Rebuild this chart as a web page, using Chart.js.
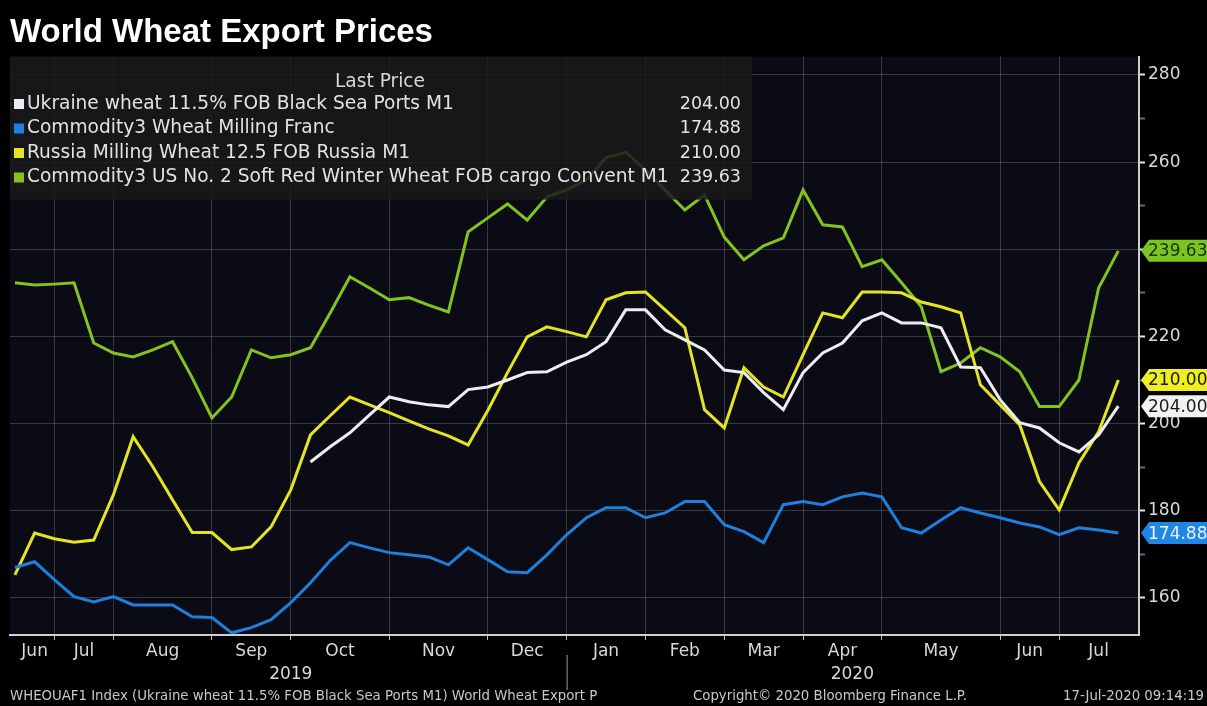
<!DOCTYPE html>
<html>
<head>
<meta charset="utf-8">
<script src="https://cdn.jsdelivr.net/npm/chart.js@4.4.0/dist/chart.umd.min.js"></script>
<style>
html, body { margin: 0; padding: 0; background: #000; }
#caixa { width: 1207px; height: 706px; }
</style>
</head>
<body>
<div id="caixa"><canvas id="grafico" width="1207" height="706"></canvas></div>
<script>
// Séries semanais (jun/2019 a jul/2020)
var ucrania = [null, null, null, null, null, null, null, null, null, null,
  null, null, null, null, null, 191.2, 194.7, 197.9, 202.0, 206.1,
  205.0, 204.3, 203.9, 207.8, 208.4, 210.0, 211.7, 211.9, 214.1, 215.8,
  218.8, 226.1, 226.1, 221.5, 219.2, 216.9, 212.3, 211.7, 207.1, 203.2,
  211.7, 216.2, 218.5, 223.6, 225.4, 223.1, 223.1, 222.0, 213.0, 212.8,
  205.5, 200.2, 199.0, 195.6, 193.5, 197.4, 204.00];
var franca = [167.0, 168.3, 164.2, 160.3, 159.1, 160.3, 158.4, 158.4, 158.4, 155.7,
  155.5, 152.0, 153.2, 155.0, 158.9, 163.5, 168.6, 172.7, 171.5, 170.4,
  169.9, 169.4, 167.6, 171.5, 168.8, 166.0, 165.8, 169.9, 174.5, 178.4,
  180.7, 180.7, 178.4, 179.5, 182.1, 182.1, 176.8, 175.2, 172.7, 181.4,
  182.1, 181.4, 183.2, 184.1, 183.2, 176.1, 174.9, 177.9, 180.7, 179.5,
  178.4, 177.2, 176.3, 174.5, 176.1, 175.6, 174.88];
var russia = [165.3, 174.9, 173.6, 172.8, 173.3, 183.7, 197.0, 190.1, 182.5, 175.0,
  175.0, 171.1, 171.7, 176.3, 184.8, 197.4, 201.8, 206.1, 204.3, 202.5,
  200.6, 198.8, 197.2, 195.1, 203.0, 211.7, 219.9, 222.2, 221.1, 219.9,
  228.4, 230.0, 230.2, 226.1, 222.0, 203.2, 199.0, 212.8, 208.4, 206.1,
  215.8, 225.4, 224.3, 230.2, 230.2, 230.0, 227.9, 226.8, 225.4, 208.9,
  204.3, 199.7, 186.7, 180.2, 191.0, 198.1, 210.00];
var eua = [232.3, 231.8, 232.0, 232.3, 218.5, 216.2, 215.3, 216.9, 218.8, 210.5,
  201.3, 206.1, 216.9, 215.1, 215.8, 217.4, 225.4, 233.7, 231.1, 228.4,
  228.9, 227.2, 225.6, 244.0, 247.2, 250.4, 246.7, 252.0, 253.6, 255.9,
  261.0, 262.3, 258.2, 253.6, 249.0, 252.5, 242.8, 237.6, 240.8, 242.6,
  253.6, 245.6, 245.1, 236.0, 237.6, 232.3, 226.8, 211.9, 213.9, 217.4,
  215.3, 211.9, 203.9, 203.9, 210.0, 231.1, 239.63];

var nomes = ['Ukraine wheat 11.5% FOB Black Sea Ports M1',
  'Commodity3 Wheat Milling Franc',
  'Russia Milling Wheat 12.5 FOB Russia M1',
  'Commodity3 US No. 2 Soft Red Winter Wheat FOB cargo Convent M1'];

// Eixo x: primeira semana de cada mês
var meses = ['Jun', 'Jul', 'Aug', 'Sep', 'Oct', 'Nov', 'Dec', 'Jan', 'Feb', 'Mar', 'Apr', 'May', 'Jun', 'Jul'];
var inicioMes = [0, 2, 5, 10, 14, 19, 24, 28, 32, 36, 40, 44, 50, 53];
var anos = ['2019', '2020'];
var inicioAno = [0, 28];
var marcasY = [160, 170, 180, 190, 200, 210, 220, 230, 240, 250, 260, 270, 280];

var rodape = ['WHEOUAF1 Index (Ukraine wheat 11.5% FOB Black Sea Ports M1) World Wheat Export P',
  'Copyright\u00a9 2020 Bloomberg Finance L.P.',
  '17-Jul-2020 09:14:19'];

var fonte = "'DejaVu Sans', sans-serif";
Chart.defaults.font.family = fonte;
Chart.defaults.color = '#d4d4d4';

var total = franca.length;
var xMin = -0.25, xMax = 57.05;

function pontos(vals) {
    return vals.map(function (v, i) { return { x: i, y: v }; });
}
function centros(inicios, fim) {
    return inicios.map(function (v, i) {
        var f = i + 1 < inicios.length ? inicios[i + 1] : fim;
        return (v + f) / 2;
    });
}
var centroMes = centros(inicioMes, total);
var centroAno = centros(inicioAno, total);

var cores = ['#ececf2', '#1f7fdc', '#e4e424', '#84c21f'];
var etiquetas = [
    { fundo: '#f2f2f2', texto: '#1a1a1a' },
    { fundo: '#1f86e6', texto: '#e8f2ff' },
    { fundo: '#eeee22', texto: '#1a1a00' },
    { fundo: '#7cc420', texto: '#183400' }
];

// fundo preto e área do gráfico azul-escura
var fundo = {
    id: 'fundo',
    beforeDraw: function (chart) {
        var c = chart.ctx, a = chart.chartArea;
        c.save();
        c.fillStyle = '#000';
        c.fillRect(0, 0, chart.width, chart.height);
        c.fillStyle = '#0b0b15';
        c.fillRect(a.left, a.top, a.right - a.left, a.bottom - a.top);
        c.restore();
    }
};

// legenda estilo Bloomberg com último preço
var legenda = {
    id: 'legenda',
    afterDatasetsDraw: function (chart) {
        var c = chart.ctx, a = chart.chartArea;
        c.save();
        c.fillStyle = 'rgba(26,26,26,0.86)';
        c.fillRect(a.left, a.top, 742, 143);
        c.font = '18.6px ' + fonte;
        c.textBaseline = 'middle';
        c.fillStyle = '#d8d8d8';
        c.textAlign = 'center';
        c.fillText('Last Price', 380, 82);
        chart.data.datasets.forEach(function (ds, k) {
            var y = 104 + k * 24.5;
            var ult = ds.data[ds.data.length - 1].y;
            c.fillStyle = cores[k];
            c.fillRect(14, y - 5, 10, 10);
            c.fillStyle = '#e2e2e2';
            c.textAlign = 'left';
            c.font = '18.6px ' + fonte;
            c.fillText(ds.label, 27, y);
            c.textAlign = 'right';
            c.font = '17.5px ' + fonte;
            c.fillText(ult.toFixed(2), 741, y);
        });
        c.restore();
    }
};

// etiquetas de último valor, separador de ano e rodapé
var extras = {
    id: 'extras',
    afterDraw: function (chart) {
        var c = chart.ctx, a = chart.chartArea;
        var ys = chart.scales.y, xs = chart.scales.x;
        c.save();
        chart.data.datasets.forEach(function (ds, k) {
            var v = ds.data[ds.data.length - 1].y;
            var y = ys.getPixelForValue(v);
            var x0 = a.right + 2, h = 22;
            c.beginPath();
            c.moveTo(x0, y);
            c.lineTo(x0 + 8, y - h / 2);
            c.lineTo(chart.width, y - h / 2);
            c.lineTo(chart.width, y + h / 2);
            c.lineTo(x0 + 8, y + h / 2);
            c.closePath();
            c.fillStyle = etiquetas[k].fundo;
            c.fill();
            c.fillStyle = etiquetas[k].texto;
            c.font = '17px ' + fonte;
            c.textAlign = 'left';
            c.textBaseline = 'middle';
            c.fillText(v.toFixed(2), x0 + 7, y + 1);
        });
        // separador entre 2019 e 2020
        var xs0 = xs.getPixelForValue(inicioAno[1]);
        c.strokeStyle = '#9a9a9a';
        c.lineWidth = 1;
        c.beginPath();
        c.moveTo(xs0 + 0.5, a.bottom + 20);
        c.lineTo(xs0 + 0.5, a.bottom + 55);
        c.stroke();
        // rodapé
        c.font = '13.3px ' + fonte;
        c.fillStyle = '#c8c8c8';
        c.textAlign = 'left';
        c.textBaseline = 'middle';
        c.fillText(rodape[0], 10, 697);
        c.fillText(rodape[1], 693, 697);
        c.fillText(rodape[2], 1063, 697);
        c.restore();
    }
};

var series = [ucrania, franca, russia, eua];

var grafico = new Chart(document.getElementById('grafico'), {
    type: 'line',
    data: {
        datasets: series.map(function (s, k) {
            return {
                label: nomes[k],
                data: pontos(s),
                borderColor: cores[k],
                borderWidth: 3,
                pointRadius: 0,
                tension: 0,
                spanGaps: false
            };
        })
    },
    options: {
        responsive: false,
        animation: false,
        devicePixelRatio: 1,
        layout: { padding: { left: 10, right: 0, top: 0, bottom: 20 } },
        plugins: {
            legend: { display: false },
            tooltip: { enabled: false },
            title: {
                display: true,
                text: 'World Wheat Export Prices',
                align: 'start',
                color: '#ffffff',
                font: { family: "'Liberation Sans', Arial, sans-serif", size: 33, weight: 'bold' },
                padding: { top: 13, bottom: 4 }
            }
        },
        scales: {
            x: {
                type: 'linear', position: 'bottom', min: xMin, max: xMax, weight: 0,
                afterBuildTicks: function (s) {
                    s.ticks = inicioMes.slice(1).map(function (v) { return { value: v }; });
                },
                afterFit: function (s) { s.height = 5; },
                ticks: { display: false },
                grid: { color: 'rgba(120,120,120,0.42)', tickLength: 5, tickColor: '#bdbdbd' },
                border: { color: '#cfcfcf', width: 2 }
            },
            xMes: {
                type: 'linear', position: 'bottom', min: xMin, max: xMax, weight: 1,
                afterBuildTicks: function (s) {
                    s.ticks = centroMes.map(function (v) { return { value: v }; });
                },
                afterFit: function (s) { s.height = 23; },
                ticks: {
                    autoSkip: false, maxRotation: 0, padding: 1, color: '#d8d8d8',
                    font: { size: 17 },
                    callback: function (v, i) { return meses[i]; }
                },
                grid: { display: false, drawTicks: false },
                border: { display: false }
            },
            xAno: {
                type: 'linear', position: 'bottom', min: xMin, max: xMax, weight: 2,
                afterBuildTicks: function (s) {
                    s.ticks = centroAno.map(function (v) { return { value: v }; });
                },
                afterFit: function (s) { s.height = 23; },
                ticks: {
                    autoSkip: false, maxRotation: 0, padding: 1, color: '#d8d8d8',
                    font: { size: 17 },
                    callback: function (v, i) { return anos[i]; }
                },
                grid: { display: false, drawTicks: false },
                border: { display: false }
            },
            y: {
                position: 'right', min: 151.5, max: 284.2,
                afterBuildTicks: function (s) {
                    s.ticks = marcasY.map(function (v) { return { value: v }; });
                },
                afterFit: function (s) { s.width = 68; },
                ticks: {
                    color: '#d8d8d8', font: { size: 17 }, padding: 3,
                    callback: function (v) { return v % 20 === 0 ? v : ''; }
                },
                grid: {
                    color: function (c) {
                        return c.tick && c.tick.value % 20 === 0 ? 'rgba(120,120,120,0.42)' : 'rgba(0,0,0,0)';
                    },
                    tickLength: 6,
                    tickWidth: 2,
                    tickColor: function (c) {
                        return c.tick && c.tick.value % 20 === 0 ? '#e6e6e6' : '#6a6a6a';
                    }
                },
                border: { color: '#cfcfcf', width: 2 }
            }
        }
    },
    plugins: [fundo, legenda, extras]
});
</script>
</body>
</html>
